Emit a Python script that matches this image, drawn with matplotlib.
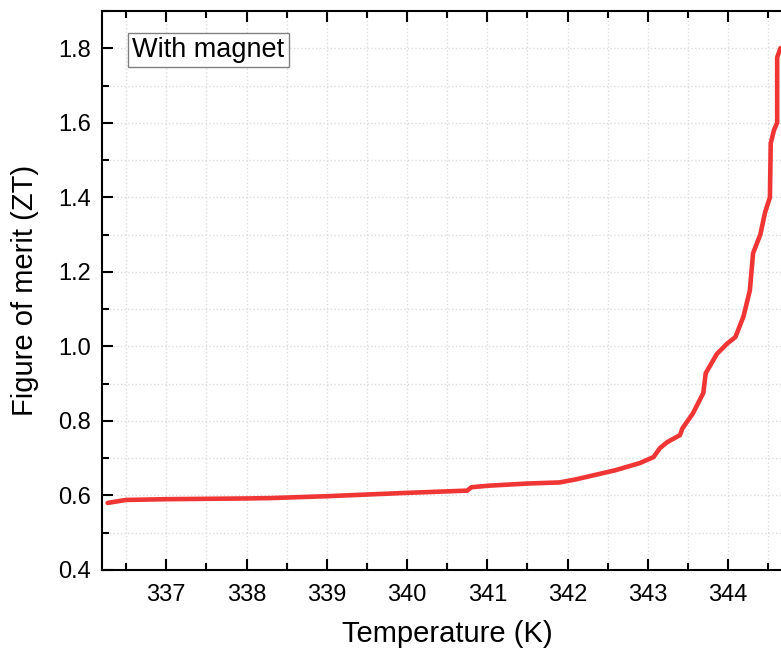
import numpy as np
import matplotlib.pyplot as plt
from matplotlib.ticker import MultipleLocator

# temperature (K) and figure of merit
temp = [336.27, 336.5, 337.0, 338.0, 338.3, 339.0, 340.0, 340.75, 340.8, 341.0,
        341.5, 341.9, 342.1, 342.4, 342.6, 342.9, 343.07, 343.15, 343.24, 343.40,
        343.43, 343.56, 343.69, 343.72, 343.86, 343.99, 344.09, 344.19, 344.27,
        344.31, 344.40, 344.46, 344.52, 344.53, 344.57, 344.61, 344.61, 344.65, 344.80]
zt = [0.580, 0.588, 0.590, 0.592, 0.593, 0.598, 0.607, 0.613, 0.622, 0.626,
      0.632, 0.635, 0.643, 0.658, 0.668, 0.687, 0.703, 0.727, 0.743, 0.762,
      0.780, 0.820, 0.875, 0.928, 0.980, 1.008, 1.025, 1.080, 1.150,
      1.250, 1.300, 1.360, 1.400, 1.545, 1.580, 1.600, 1.775, 1.800, 1.810]

plt.rcParams['font.family'] = ['Liberation Sans', 'DejaVu Sans']

fig = plt.figure(figsize=(7.81, 6.5), dpi=100)
ax = fig.add_axes([102 / 781, 80 / 650, 690 / 781, 559 / 650])

ax.plot(temp, zt, color='#f03535', lw=3.3, solid_joinstyle='round',
        solid_capstyle='round')

ax.set_xlim(336.2, 344.795)
ax.set_ylim(0.4, 1.9)
ax.xaxis.set_major_locator(MultipleLocator(1))
ax.xaxis.set_minor_locator(MultipleLocator(0.5))
ax.yaxis.set_minor_locator(MultipleLocator(0.1))
ax.set_yticks(np.arange(0.4, 1.81, 0.2))
ax.set_yticklabels(['%.1f' % v for v in np.arange(0.4, 1.81, 0.2)])

ax.tick_params(which='both', direction='in', top=True, right=True, width=1.5,
               labelsize=17)
ax.tick_params(which='major', length=8)
ax.tick_params(which='minor', length=5)
ax.tick_params(axis='x', pad=10)
ax.tick_params(axis='y', pad=8)
ax.grid(which='both', color='#dcdcdc', ls=':', lw=1)
for s in ax.spines.values():
    s.set_linewidth(1.5)

ax.set_xlabel('Temperature (K)', fontsize=21, labelpad=10)
ax.set_ylabel('Figure of merit (ZT)', fontsize=21, labelpad=14)

ax.text(0.044, 0.931, 'With magnet', transform=ax.transAxes, fontsize=19.5,
        va='center', ha='left',
        bbox=dict(boxstyle='square,pad=0.15', fc='white', ec='#808080', lw=1))

fig.savefig('out.png', dpi=100)
